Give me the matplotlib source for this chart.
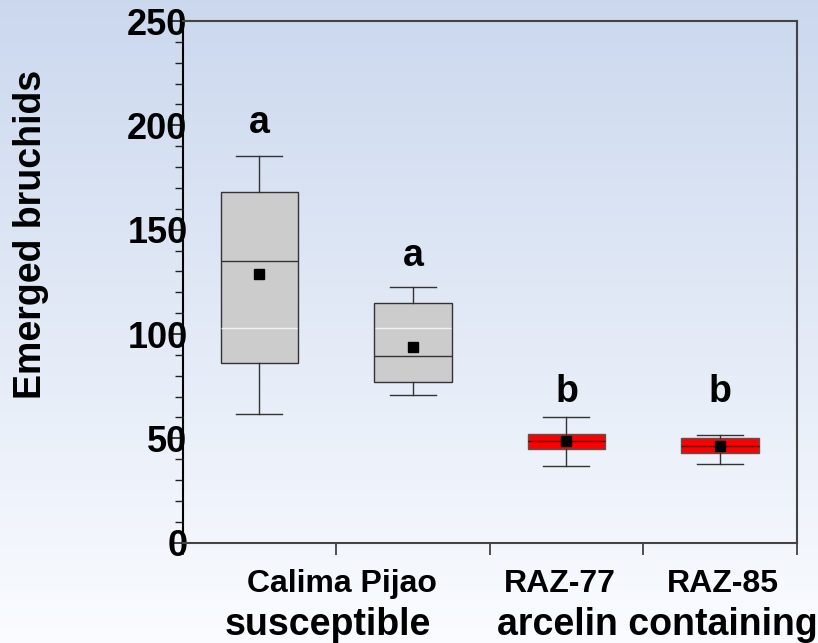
"""Box plot of emerged bruchids per bean variety."""
import matplotlib
matplotlib.use("Agg")
import matplotlib.pyplot as plt
import numpy as np

plt.rcParams["font.family"] = ["Liberation Sans", "DejaVu Sans"]
plt.rcParams["font.weight"] = "bold"

# data
varieties = ["Calima", "Pijao", "RAZ-77", "RAZ-85"]
whisker_low = [61.8, 70.6, 36.9, 37.8]
q1 = [86.2, 77.0, 45.0, 42.8]
median = [134.9, 89.3, 48.6, 46.5]
mean = [129.0, 93.6, 48.6, 46.2]
q3 = [168.0, 114.9, 51.9, 50.1]
whisker_high = [185.1, 122.6, 60.3, 51.4]
letters = ["a", "a", "b", "b"]
letter_y = [201, 137.5, 72.3, 72.3]
box_colors = ["#cccccc", "#cccccc", "#ff0000", "#ff0000"]
median_colors = ["#333333", "#333333", "#5a0000", "#5a0000"]
light_line = 102.7

fig = plt.figure(figsize=(8.18, 6.43), dpi=100)

# slide-like gradient background
bg = fig.add_axes([0, 0, 1, 1], zorder=-10)
grad = np.linspace(0, 1, 256).reshape(-1, 1)
top = np.array([0.796, 0.847, 0.933])
bottom = np.array([0.980, 0.988, 1.0])
img = top + (bottom - top) * grad[:, :, None]
bg.imshow(img, aspect="auto", extent=[0, 1, 0, 1])
bg.axis("off")

ax = fig.add_axes([0.2233, 0.156, 0.7507, 0.8113])
ax.set_facecolor("none")

positions = np.arange(len(varieties)) + 0.5
box_w = 0.505
stats = []
for i, name in enumerate(varieties):
    stats.append(dict(label=name, whislo=whisker_low[i], q1=q1[i], med=median[i],
                      mean=mean[i], q3=q3[i], whishi=whisker_high[i], fliers=[]))

parts = ax.bxp(stats, positions=positions, widths=box_w, patch_artist=True,
               showmeans=True, showfliers=False,
               meanprops=dict(marker="s", markerfacecolor="black",
                              markeredgecolor="black", markersize=6.5),
               whiskerprops=dict(color="#333333", lw=1),
               capprops=dict(color="#333333", lw=1),
               capwidths=0.30, manage_ticks=False, zorder=2)
for box, fc in zip(parts["boxes"], box_colors):
    box.set_facecolor(fc)
    box.set_edgecolor("#333333" if fc == "#cccccc" else "#555555")
    box.set_linewidth(1)
for med, mc in zip(parts["medians"], median_colors):
    med.set_color(mc)
    med.set_linewidth(1)

# faint light line showing through the boxes
for x, lo, hi in zip(positions, q1, q3):
    if lo < light_line < hi:
        ax.hlines(light_line, x - box_w / 2 + 0.005, x + box_w / 2 - 0.005,
                  color="#f2f2f2", lw=1, zorder=3)

for x, lt, ly in zip(positions, letters, letter_y):
    ax.text(x, ly, lt, ha="center", va="center", fontsize=27, fontweight="bold")

ax.set_xlim(0, 4)
ax.set_ylim(0, 250)
ax.set_yticks(np.arange(0, 251, 50))
ax.set_yticks(np.arange(0, 251, 10), minor=True)
ax.set_xticks(np.arange(0, 5))
ax.set_xticklabels([])
ax.tick_params(axis="y", which="major", length=9.5, width=1.2, labelsize=26,
               pad=-13, color="#222222")
ax.tick_params(axis="y", which="minor", length=5.5, width=1, color="#222222")
ax.tick_params(axis="x", which="major", length=8.6, width=1.2, color="#333333")
for lab in ax.get_yticklabels():
    lab.set_fontweight("bold")

ax.spines["left"].set_color("black")
ax.spines["left"].set_linewidth(1.5)
for side in ["top", "right", "bottom"]:
    ax.spines[side].set_color("#444444")
    ax.spines[side].set_linewidth(1.5)

ax.set_ylabel("Emerged bruchids", fontsize=27, fontweight="bold", labelpad=0)
ax.yaxis.set_label_coords(-0.2177, 0.59)

# category and group labels under the axis
label_kw = dict(ha="center", va="baseline", fontweight="bold", clip_on=False)
ax.text(1.04, -23.5, "Calima Pijao", fontsize=23, **label_kw)
ax.text(2.455, -23.5, "RAZ-77", fontsize=23, **label_kw)
ax.text(3.52, -23.5, "RAZ-85", fontsize=23, **label_kw)
ax.text(0.947, -44.2, "susceptible", fontsize=27, **label_kw)
ax.text(3.094, -44.2, "arcelin containing", fontsize=27, **label_kw)

fig.savefig("out.png", dpi=100)
